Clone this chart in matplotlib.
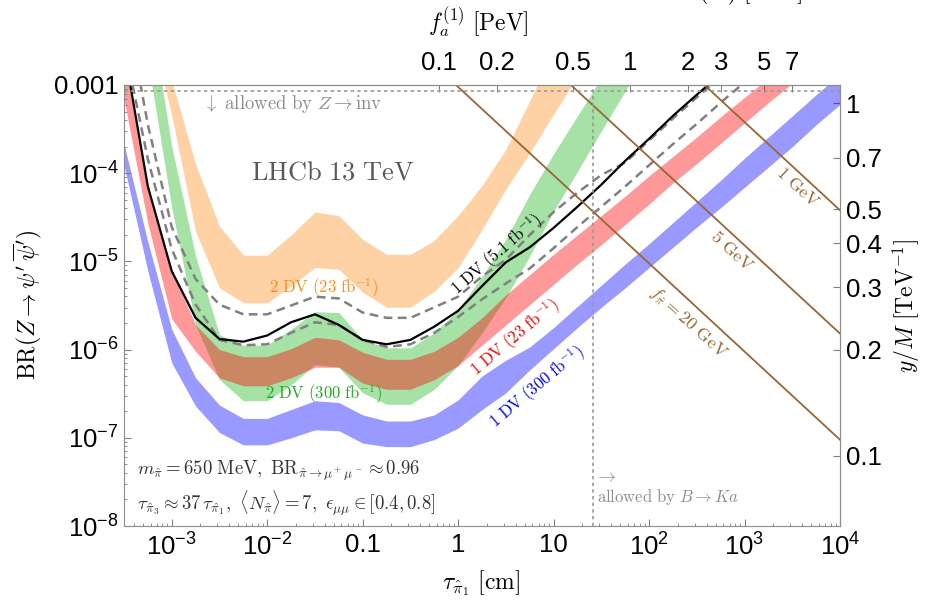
import numpy as np
import matplotlib
matplotlib.use('Agg')
import matplotlib.pyplot as plt
from matplotlib.ticker import NullLocator, LogLocator

plt.rcParams['font.family'] = ['Liberation Sans', 'DejaVu Sans']
plt.rcParams['mathtext.fontset'] = 'cm'

W, H = 931, 602

# log10(tau / cm) nodes the curves are sampled on
log_tau = [-3.5, -3.25, -3.0, -2.75, -2.5, -2.25, -2.0, -1.75, -1.5, -1.25,
           -1.0, -0.75, -0.5, -0.25, 0.0, 0.25, 0.5, 0.75, 1.0, 1.25,
           1.5, 1.75, 2.0, 2.25, 2.5, 2.75, 3.0, 3.25, 3.5, 3.75, 4.0]

# log10 BR (upper / lower edge of each band)
orange_hi = [-1.5, -1.9, -2.95, -3.90, -4.60, -4.93, -4.93, -4.70, -4.44, -4.48,
             -4.75, -4.92, -4.92, -4.76, -4.48, -4.14, -3.73, -3.18, -2.6, -2.0]
orange_lo = [-1.6, -2.2, -3.35, -4.66, -5.30, -5.47, -5.47, -5.28, -5.07, -5.09,
             -5.35, -5.52, -5.52, -5.34, -5.07, -4.64, -4.18, -3.77, -3.33, -2.9]

green_hi = [-1.0, -2.0, -3.70, -4.94, -5.83, -5.95, -5.95, -5.77, -5.57, -5.58,
            -5.89, -5.98, -5.98, -5.81, -5.55, -5.17, -4.75, -4.24, -3.78, -3.35,
            -2.92, -2.5, -2.1]
green_lo = [-1.5, -2.72, -4.39, -5.72, -6.34, -6.58, -6.58, -6.40, -6.17, -6.20,
            -6.49, -6.62, -6.62, -6.45, -6.18, -5.81, -5.41, -4.94, -4.43, -3.98,
            -3.52, -3.07, -2.6]

red_hi = [-2.70, -4.18, -5.10, -5.72, -6.00, -6.08, -6.08, -5.99, -5.86, -5.89,
          -6.03, -6.11, -6.11, -6.02, -5.86, -5.64, -5.38, -5.15, -4.92, -4.70,
          -4.48, -4.26, -4.03, -3.81, -3.59, -3.36, -3.14, -2.92, -2.70]
red_lo = [-3.16, -4.57, -5.65, -6.02, -6.32, -6.41, -6.41, -6.32, -6.20, -6.20,
          -6.38, -6.45, -6.45, -6.34, -6.18, -5.95, -5.72, -5.49, -5.26, -5.03,
          -4.81, -4.58, -4.35, -4.11, -3.89, -3.66, -3.43, -3.20, -2.98]

blue_hi = [-3.67, -4.78, -5.77, -6.32, -6.63, -6.78, -6.78, -6.68, -6.58, -6.60,
           -6.74, -6.81, -6.81, -6.74, -6.57, -6.30, -6.12, -5.97, -5.75, -5.51,
           -5.27, -5.03, -4.80, -4.56, -4.32, -4.08, -3.83, -3.59, -3.35, -3.11,
           -2.875]
blue_lo = [-3.91, -5.11, -6.15, -6.64, -6.94, -7.08, -7.08, -7.00, -6.91, -6.92,
           -7.06, -7.10, -7.10, -7.02, -6.89, -6.68, -6.49, -6.23, -5.99, -5.75,
           -5.52, -5.30, -5.07, -4.84, -4.61, -4.39, -4.16, -3.93, -3.70, -3.45,
           -3.22]

lhcb_now = [-2.59, -4.15, -5.11, -5.64, -5.88, -5.91, -5.84, -5.69, -5.60, -5.72,
            -5.89, -5.94, -5.89, -5.74, -5.56, -5.28, -5.01, -4.84, -4.62, -4.38,
            -4.13, -3.86, -3.61, -3.35, -3.11, -2.88]
dash_hi = [-1.97, -3.45, -4.61, -5.20, -5.49, -5.60, -5.60, -5.50, -5.40, -5.42,
           -5.58, -5.64, -5.64, -5.52, -5.40, -5.17, -4.98, -4.70, -4.44, -4.22,
           -4.02, -3.88, -3.63, -3.38, -3.14, -2.91]
dash_lo = [-2.53, -3.84, -4.86, -5.49, -5.89, -5.95, -5.94, -5.81, -5.69, -5.72,
           -5.89, -5.97, -5.94, -5.81, -5.63, -5.43, -5.25, -5.08, -4.85, -4.61,
           -4.38, -4.15, -3.91, -3.67, -3.44, -3.20, -2.97, -2.75]

# f_pi lines: two end points each (tau in cm, BR)
fpi_tau = [[0.1, 1e4], [0.1, 1e4], [0.1, 1e4]]
fpi_br = [[9.5e-3, 9.5e-8], [1.52e-1, 1.52e-6], [3.8, 3.8e-5]]

z_inv_limit = 8.5e-4
b_to_ka_tau = 25.6

# axis mappings
tau_at_1pev = 63.7      # tau where f_a = 1 PeV (tau ~ f_a^2)
br_at_ym1 = 6.25e-4     # BR where y/M = 1 TeV^-1 (BR ~ (y/M)^4)

x_ticks = [1e-3, 1e-2, 0.1, 1, 10, 1e2, 1e3, 1e4]
x_labels = [r'$\mathregular{10^{-3}}$', r'$\mathregular{10^{-2}}$', '0.1', '1', '10',
            r'$\mathregular{10^{2}}$', r'$\mathregular{10^{3}}$', r'$\mathregular{10^{4}}$']
y_ticks = [1e-8, 1e-7, 1e-6, 1e-5, 1e-4, 1e-3]
y_labels = [r'$\mathregular{10^{-8}}$', r'$\mathregular{10^{-7}}$', r'$\mathregular{10^{-6}}$',
            r'$\mathregular{10^{-5}}$', r'$\mathregular{10^{-4}}$', '0.001']
fa_ticks = [0.1, 0.2, 0.5, 1, 2, 3, 5, 7]
ym_ticks = [0.1, 0.2, 0.3, 0.4, 0.5, 0.7, 1]


def fpos(x, y):
    return x / W, 1 - y / H


tau = 10 ** np.array(log_tau)

fig = plt.figure(figsize=(W / 100, H / 100), dpi=100)
ax = fig.add_axes([124 / W, 1 - 526 / H, (840 - 124) / W, (526 - 85) / H])
ax.set_xscale('log')
ax.set_yscale('log')


def band(hi, lo, color, alpha):
    n = len(hi)
    ax.fill_between(tau[:n], 10 ** np.array(lo), 10 ** np.array(hi),
                    color=color, alpha=alpha, lw=0)


band(orange_hi, orange_lo, '#ff8000', 0.35)
band(green_hi, green_lo, '#00aa00', 0.35)
band(red_hi, red_lo, 'red', 0.4)
band(blue_hi, blue_lo, 'blue', 0.4)

ax.plot(tau[:len(dash_hi)], 10 ** np.array(dash_hi), color='0.5', lw=1.8, dashes=(3.5, 2.2))
ax.plot(tau[:len(dash_lo)], 10 ** np.array(dash_lo), color='0.5', lw=1.8, dashes=(3.5, 2.2))
ax.plot(tau[:len(lhcb_now)], 10 ** np.array(lhcb_now), color='k', lw=1.6)

for t, b in zip(fpi_tau, fpi_br):
    ax.plot(t, b, color='#996633', lw=1.3)

ax.axhline(z_inv_limit, color='0.6', lw=1.2, ls=(0, (2, 2)))
ax.axvline(b_to_ka_tau, color='0.6', lw=1.2, ls=(0, (2, 2)))

ax.set_xlim(10 ** -3.5, 1e4)
ax.set_ylim(1e-8, 1e-3)
ax.set_xticks(x_ticks, x_labels)
ax.set_yticks(y_ticks, y_labels)
ax.xaxis.set_minor_locator(LogLocator(subs=np.arange(2, 10), numticks=100))
ax.yaxis.set_minor_locator(LogLocator(subs=np.arange(2, 10), numticks=100))
ax.tick_params(which='both', direction='in', color='0.5', labelsize=18.5)
ax.tick_params(which='major', length=5)
ax.tick_params(which='minor', length=2.5)
ax.tick_params(axis='x', pad=5)
ax.tick_params(axis='y', pad=4)
for s in ax.spines.values():
    s.set_color('0.55')

top = ax.secondary_xaxis('top', functions=(
    lambda t: np.sqrt(np.maximum(np.asarray(t, float), 1e-300) / tau_at_1pev),
    lambda f: tau_at_1pev * np.asarray(f, float) ** 2))
top.set_xticks(fa_ticks, [f'{v:g}' for v in fa_ticks])
top.xaxis.set_minor_locator(NullLocator())
top.tick_params(direction='in', color='0.5', length=5, labelsize=18.5, pad=7)
top.spines['top'].set_color('0.55')

right = ax.secondary_yaxis('right', functions=(
    lambda b: (np.maximum(np.asarray(b, float), 1e-300) / br_at_ym1) ** 0.25,
    lambda y: br_at_ym1 * np.asarray(y, float) ** 4))
right.set_yticks(ym_ticks, [f'{v:g}' for v in ym_ticks])
right.yaxis.set_minor_locator(NullLocator())
right.tick_params(direction='in', color='0.5', length=5, labelsize=18.5, pad=4)
right.spines['right'].set_color('0.55')

# axis titles
fig.text(*fpos(481, 583), r'$\tau_{\hat{\pi}_1}\ [\mathrm{cm}]$', ha='center', va='center', fontsize=17)
fig.text(*fpos(28, 305), r'$\mathrm{BR}(Z \to \psi^\prime\,\overline{\psi}^\prime)$',
         ha='center', va='center', rotation=90, fontsize=17)
fig.text(*fpos(906, 306), r'$y/M\ [\mathrm{TeV}^{-1}]$', ha='center', va='center',
         rotation=90, fontsize=17)
fig.text(*fpos(478, 22), r'$f_a^{(1)}\ [\mathrm{PeV}]$', ha='center', va='center', fontsize=17)
# this title sits mostly above the figure edge in the reference too
fig.text(*fpos(740, 7), r'$m(H)\ [\mathrm{GeV}]$', ha='center', va='bottom', fontsize=17)

# annotations
fig.text(*fpos(203, 104), r'$\downarrow\ \mathrm{allowed\ by}\ Z \to \mathrm{inv}$',
         ha='left', va='center', color='0.55', fontsize=13.5)
fig.text(*fpos(333, 172), r'$\mathrm{LHCb\ 13\ TeV}$', ha='center', va='center',
         color='0.35', fontsize=19)
fig.text(*fpos(324, 288), r'$2\ \mathrm{DV}\ (23\ \mathrm{fb}^{-1})$', ha='center', va='center',
         color='#ff8c1a', fontsize=12)
fig.text(*fpos(324, 394), r'$2\ \mathrm{DV}\ (300\ \mathrm{fb}^{-1})$', ha='center', va='center',
         color='#22aa22', fontsize=12)
fig.text(*fpos(497, 255), r'$1\ \mathrm{DV}\ (5.1\ \mathrm{fb}^{-1})$', ha='center', va='center',
         color='k', fontsize=12, rotation=41, rotation_mode='anchor')
fig.text(*fpos(515, 338), r'$1\ \mathrm{DV}\ (23\ \mathrm{fb}^{-1})$', ha='center', va='center',
         color='red', fontsize=12, rotation=40, rotation_mode='anchor')
fig.text(*fpos(537, 387), r'$1\ \mathrm{DV}\ (300\ \mathrm{fb}^{-1})$', ha='center', va='center',
         color='blue', fontsize=12, rotation=40, rotation_mode='anchor')

fpi_label_pos = [(688, 323), (731, 252), (797, 188)]
fpi_texts = [r'$f_{\hat{\pi}} = 20\ \mathrm{GeV}$', r'$5\ \mathrm{GeV}$', r'$1\ \mathrm{GeV}$']
for (px, py), s in zip(fpi_label_pos, fpi_texts):
    fig.text(*fpos(px, py), s, ha='center', va='center', color='#996633', fontsize=13,
             rotation=-42.5, rotation_mode='anchor')

fig.text(*fpos(137, 471), r'$m_{\hat{\pi}} = 650\ \mathrm{MeV},\ \mathrm{BR}_{\hat{\pi}\to\mu^+\mu^-} \approx 0.96$',
         ha='left', va='center', color='0.2', fontsize=13.5)
fig.text(*fpos(137, 503),
         r'$\tau_{\hat{\pi}_3} \approx 37\,\tau_{\hat{\pi}_1},\ \langle N_{\hat{\pi}}\rangle = 7,\ \epsilon_{\mu\mu} \in [0.4, 0.8]$',
         ha='left', va='center', color='0.2', fontsize=13.5)
fig.text(*fpos(605, 477), r'$\to$', ha='center', va='center', color='0.55', fontsize=13)
fig.text(*fpos(597, 497), r'$\mathrm{allowed\ by}\ B \to Ka$', ha='left', va='center',
         color='0.55', fontsize=12)

fig.savefig('out.png', dpi=100)
